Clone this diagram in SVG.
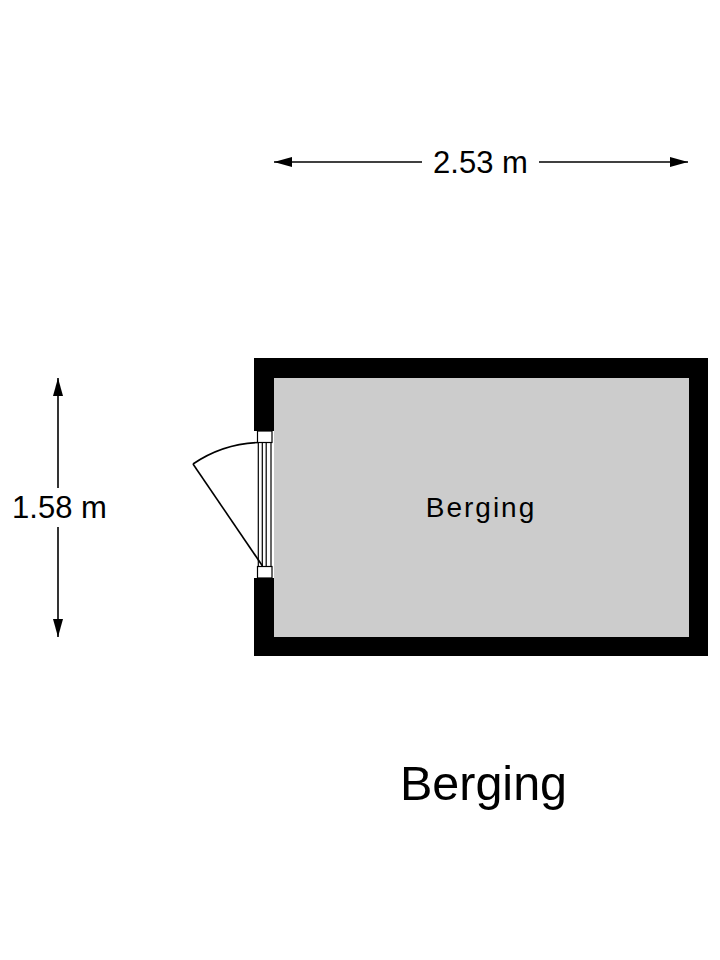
<svg xmlns="http://www.w3.org/2000/svg" width="720" height="960" viewBox="0 0 720 960">
<style>
.t{font-family:"Liberation Sans",Arial,sans-serif;fill:#000;text-anchor:middle}
.dim{stroke:#000;stroke-width:1.6;fill:none}
.thin{stroke:#000;stroke-width:1.2;fill:none}
</style>
<defs>
<marker id="ah" viewBox="0 0 18 10" refX="18" refY="5" markerWidth="18" markerHeight="10" markerUnits="userSpaceOnUse" orient="auto">
<path d="M0,0 L18,5 L0,10 z" fill="#000"/>
</marker>
</defs>
<rect width="720" height="960" fill="#fff"/>
<g id="room-berging">
<rect x="254" y="358" width="454" height="298" fill="#000"/>
<rect x="274" y="378" width="415" height="259" fill="#cccccc"/>
<text class="t" x="481" y="517" font-size="28" letter-spacing="2">Berging</text>
</g>
<g id="door">
<rect x="254" y="431" width="20" height="147" fill="#fff"/>
<rect x="257.5" y="431" width="14.5" height="11.5" fill="#fff" stroke="#000" stroke-width="1.2"/>
<rect x="257.5" y="566.5" width="14.5" height="11.5" fill="#fff" stroke="#000" stroke-width="1.2"/>
<line class="thin" x1="258.3" y1="442.5" x2="258.3" y2="566.5"/>
<line class="thin" x1="262.3" y1="442.5" x2="262.3" y2="566.5"/>
<line class="thin" x1="266.2" y1="442.5" x2="266.2" y2="566.5"/>
<line class="thin" x1="271" y1="442.5" x2="271" y2="566.5"/>
<line stroke="#000" stroke-width="1.6" x1="262.5" y1="566" x2="193" y2="464"/>
<path d="M193,464 A123.5,123.5 0 0 1 258,442.5" fill="none" stroke="#000" stroke-width="1.6"/>
</g>
<g id="connectors">
<line class="dim" x1="422" y1="162" x2="274" y2="162" marker-end="url(#ah)"/>
<line class="dim" x1="539" y1="162" x2="688" y2="162" marker-end="url(#ah)"/>
<line class="dim" x1="58" y1="488" x2="58" y2="378" marker-end="url(#ah)"/>
<line class="dim" x1="58" y1="527" x2="58" y2="637" marker-end="url(#ah)"/>
</g>
<g id="dim-width">
<text class="t" x="480.5" y="173" font-size="31">2.53 m</text>
</g>
<g id="dim-height">
<text class="t" x="59.5" y="518" font-size="31">1.58 m</text>
</g>
<g id="title">
<text class="t" x="483.5" y="800" font-size="48.5">Berging</text>
</g>
</svg>
